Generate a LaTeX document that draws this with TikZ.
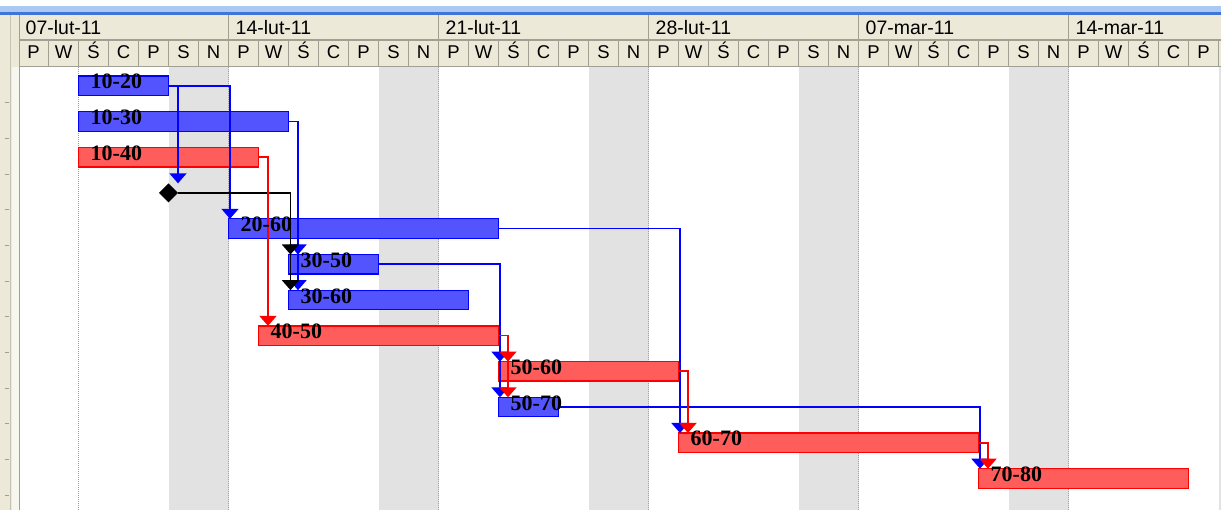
\documentclass[tikz,border=0pt]{standalone}
\usepackage{fontspec}
\setmainfont{Liberation Serif}
\newfontfamily\hdrfont{Liberation Sans}
\usetikzlibrary{arrows.meta,shapes.geometric}

\definecolor{hdrbg}{HTML}{ECE9D8}
\definecolor{hdrline}{HTML}{A19E92}
\definecolor{stripline}{HTML}{C6C3B6}
\definecolor{barblue}{RGB}{84,84,255}
\definecolor{barred}{RGB}{255,92,92}
\definecolor{weekend}{RGB}{226,226,226}
\definecolor{topblue}{HTML}{AAC8F2}
\definecolor{topdark}{HTML}{3F74D8}

\begin{document}
\begin{tikzpicture}[x=1pt,y=-1pt,
  hdrtext/.style={font=\hdrfont\fontsize{19.5}{19.5}\selectfont, inner sep=0, anchor=base west},
  daytext/.style={font=\hdrfont\fontsize{18.5}{18.5}\selectfont, inner sep=0, anchor=base},
  hdrrule/.style={draw=hdrline, line width=1.6pt},
  gridline/.style={draw=gray!75, line width=0.9pt, dash pattern=on 1pt off 1pt},
  taskbar/.style={line width=1.3pt, inner sep=0, outer sep=0, anchor=north west, minimum height=19.5pt},
  bluebar/.style={taskbar, draw=blue, fill=barblue},
  redbar/.style={taskbar, draw=red, fill=barred},
  milestone/.style={diamond, fill=black, inner sep=0, outer sep=0, minimum width=19pt, minimum height=19pt},
  tasklabel/.style={font=\bfseries\fontsize{22}{22}\selectfont, inner sep=0, anchor=base west},
  link/.style={line width=1.7pt, -{Triangle[width=17pt,length=10pt]}},
  bluelink/.style={link, draw=blue},
  redlink/.style={link, draw=red},
  blacklink/.style={link, draw=black}
]
\useasboundingbox (0,0) rectangle (1221,510);
\fill[white] (0,0) rectangle (1221,510);

% weekend columns (S, N) of every week
\foreach \w in {0,...,5}
  \fill[weekend] ({18.5+210*\w+150},67) rectangle ({min(18.5+210*\w+210,1221)},510);
% week boundaries and project start line
\foreach \w in {1,...,5}
  \draw[gridline] ({18.5+210*\w},67) -- ({18.5+210*\w},510);
\draw[gridline] (78.5,67) -- (78.5,510);

% timescale header
\fill[topblue] (0,6.5) rectangle (1221,13);
\fill[topdark] (0,12.5) rectangle (1221,15.5);
\fill[hdrbg] (0,15.5) rectangle (1221,67);
\draw[hdrrule] (18.5,40) -- (1221,40);
\draw[hdrrule] (18.5,66.5) -- (1221,66.5);
\foreach \d in {0,...,40}
  \draw[hdrrule] ({18.5+30*\d},40) -- ({18.5+30*\d},66.5);
\foreach \w in {0,...,5}
  \draw[hdrrule] ({18.5+210*\w},15.5) -- ({18.5+210*\w},40);

\foreach \t [count=\w from 0] in {07-lut-11,14-lut-11,21-lut-11,28-lut-11,07-mar-11,14-mar-11}
  \node[hdrtext] (wk\w) at ({18.5+210*\w+7},34.5) {\t};
\foreach \w in {0,...,4}
  \foreach \l [count=\i from 0] in {P,W,Ś,C,P,S,N}
    \node[daytext] (day-\w-\i) at ({18.5+210*\w+30*\i+15},58.3) {\l};
\foreach \l [count=\i from 0] in {P,W,Ś,C,P}
  \node[daytext] (day-5-\i) at ({18.5+1050+30*\i+15},58.3) {\l};

% left edge of the chart (task table border)
\fill[hdrbg] (0,15.5) rectangle (19.5,510);
\fill[hdrbg!40!white] (12,67) rectangle (18.5,510);
\draw[draw=stripline, line width=1.5pt] (10.5,15.5) -- (10.5,510);
\draw[draw=hdrline, line width=1.8pt] (19.5,15.5) -- (19.5,510);
\foreach \k in {0,...,11}
  \draw[draw=hdrline, line width=1pt] (4.5,{102.7+35.7*\k}) -- (8.5,{102.7+35.7*\k});

% task bars
\node[bluebar, minimum width=90pt]  (b1020) at (78.5,76) {};
\node[bluebar, minimum width=210pt] (b1030) at (78.5,111.7) {};
\node[redbar,  minimum width=180pt] (b1040) at (78.5,147.4) {};
\node[milestone] (ms) at (168.5,192.85) {};
\node[bluebar, minimum width=270pt] (b2060) at (228.5,218.8) {};
\node[bluebar, minimum width=90pt]  (b3050) at (288.5,254.5) {};
\node[bluebar, minimum width=180pt] (b3060) at (288.5,290.2) {};
\node[redbar,  minimum width=240pt] (b4050) at (258.5,325.9) {};
\node[redbar,  minimum width=180pt] (b5060) at (498.5,361.6) {};
\node[bluebar, minimum width=60pt]  (b5070) at (498.5,397.3) {};
\node[redbar,  minimum width=300pt] (b6070) at (678.5,433) {};
\node[redbar,  minimum width=210pt] (b7080) at (978.5,468.7) {};

% dependency links
\draw[bluelink] (b1020.east) -| ([xshift=9.5pt]ms.north);
\draw[bluelink] (b1020.east) -| ([xshift=1.5pt]b2060.north west);
\draw[bluelink] (b1030.east) -| ([xshift=9.5pt]b3050.north west);
\draw[bluelink] (b1030.east) -| ([xshift=9.5pt]b3060.north west);
\draw[bluelink] (b2060.east) -| ([xshift=1.5pt]b6070.north west);
\draw[bluelink] (b3050.east) -| ([xshift=1.5pt]b5060.north west);
\draw[bluelink] (b3050.east) -| ([xshift=1.5pt]b5070.north west);
\draw[bluelink] (b5070.east) -| ([xshift=1.5pt]b7080.north west);
\draw[blacklink] (ms.east) -| ([xshift=2pt]b3050.north west);
\draw[blacklink] (ms.east) -| ([xshift=2pt]b3060.north west);
\draw[redlink] (b1040.east) -| ([xshift=9.5pt]b4050.north west);
\draw[redlink] (b4050.east) -| ([xshift=9.5pt]b5060.north west);
\draw[redlink] (b4050.east) -| ([xshift=9.5pt]b5070.north west);
\draw[redlink] (b5060.east) -| ([xshift=9.5pt]b6070.north west);
\draw[redlink] (b6070.east) -| ([xshift=9.5pt]b7080.north west);

% bar labels
\foreach \b/\t in {b1020/10-20,b1030/10-30,b1040/10-40,b2060/20-60,b3050/30-50,
                   b3060/30-60,b4050/40-50,b5060/50-60,b5070/50-70,b6070/60-70,b7080/70-80}
  \node[tasklabel] (l\b) at ([xshift=12pt,yshift=-13pt]\b.north west) {\t};
\end{tikzpicture}
\end{document}
